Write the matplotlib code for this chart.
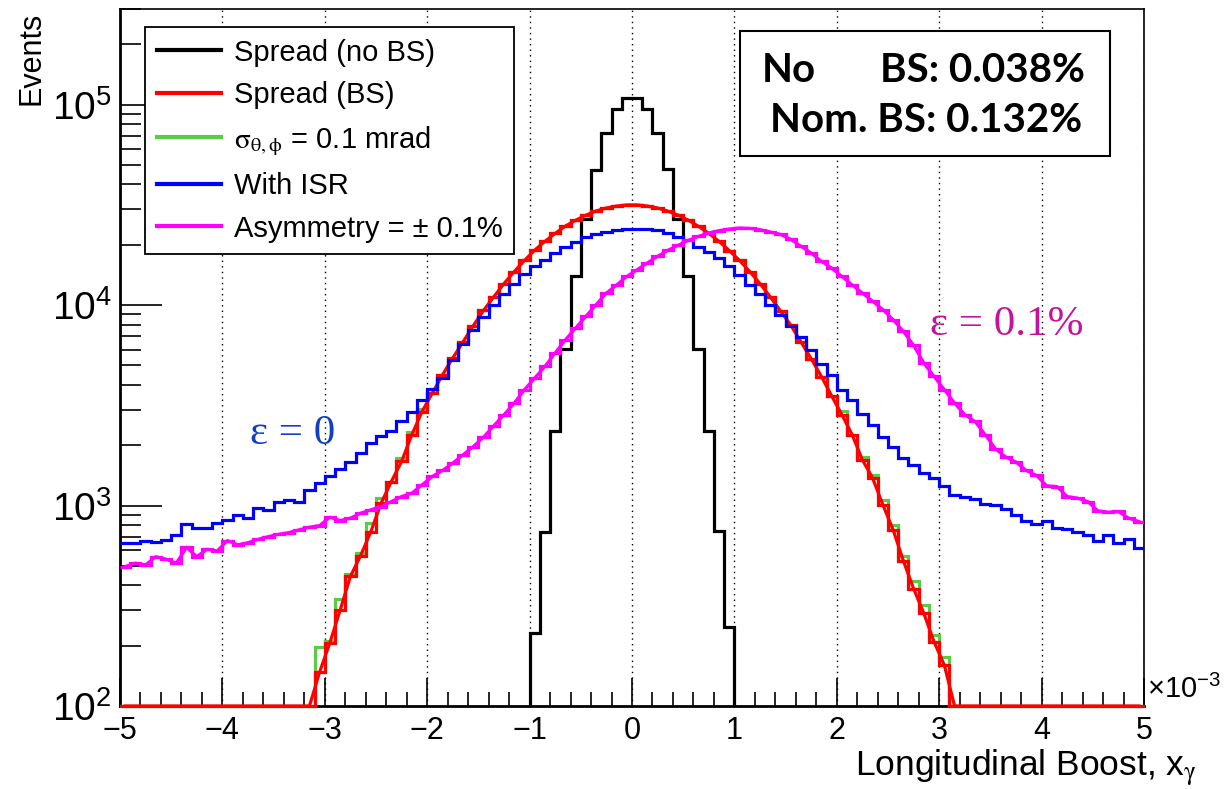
import numpy as np
import matplotlib.pyplot as plt
from matplotlib.lines import Line2D
from matplotlib.patches import Rectangle
from matplotlib.ticker import FixedLocator, FuncFormatter, NullFormatter

plt.rcParams['font.family'] = ['Liberation Sans', 'DejaVu Sans']
plt.rcParams['mathtext.fontset'] = 'custom'
plt.rcParams['mathtext.rm'] = 'Liberation Sans'
plt.rcParams['mathtext.it'] = 'Liberation Sans:italic'

# binning, x in units of 1e-3
x_edges = np.linspace(-5, 5, 101)
black_edges = np.linspace(-1, 1, 21)

# Spread (no BS), bins from -1 to 1
no_bs = [232, 740, 2360, 6050, 13900, 27000, 47400, 71800, 94600, 108000,
         108000, 95000, 72000, 47900, 27000, 13900, 6050, 2360, 745, 249]

# Spread (BS)
bs = [0, 0, 0, 0, 0, 0, 0, 0, 0, 0,
      0, 0, 0, 0, 0, 0, 0, 0, 0, 148,
      207, 301, 443, 563, 741, 1028, 1318, 1660, 2255, 2945,
      3640, 4490, 5450, 6550, 7900, 9400, 11000, 12800, 14700, 16700,
      18800, 20800, 22800, 24800, 26500, 28100, 29500, 30500, 31200, 31600,
      31600, 31200, 30500, 29400, 28100, 26500, 24700, 22800, 20800, 18700,
      16700, 14700, 12800, 11000, 9350, 7950, 6550, 5400, 4400, 3520,
      2838, 2255, 1690, 1370, 1008, 757, 530, 385, 290, 209,
      160, 0, 0, 0, 0, 0, 0, 0, 0, 0,
      0, 0, 0, 0, 0, 0, 0, 0, 0, 0]

# sigma_theta,phi = 0.1 mrad
sig = [0, 0, 0, 0, 0, 0, 0, 0, 0, 0,
       0, 0, 0, 0, 0, 0, 0, 0, 0, 198,
       212, 341, 455, 582, 820, 1090, 1318, 1720, 2330, 3020,
       3640, 4490, 5450, 6550, 7900, 9400, 11000, 12800, 14700, 16700,
       18800, 20800, 22800, 24800, 26500, 28100, 29500, 30500, 31200, 31600,
       31600, 31200, 30500, 29400, 28100, 26500, 24700, 22800, 20800, 18700,
       16700, 14700, 12800, 11000, 9350, 7950, 6550, 5400, 4400, 3520,
       2950, 2255, 1750, 1420, 1060, 800, 560, 420, 320, 225,
       176, 0, 0, 0, 0, 0, 0, 0, 0, 0,
       0, 0, 0, 0, 0, 0, 0, 0, 0, 0]

# With ISR
isr = [649, 649, 669, 661, 674, 714, 811, 771, 777, 823,
       849, 892, 871, 970, 952, 1036, 1068, 1047, 1197, 1294,
       1397, 1525, 1648, 1828, 2051, 2231, 2341, 2627, 2914, 3371,
       3812, 4325, 5300, 6400, 7500, 8700, 10000, 11400, 12800, 14300,
       15600, 16800, 18100, 19400, 20700, 21900, 22600, 23100, 23700, 23900,
       24100, 24100, 23700, 22900, 21900, 21200, 19600, 18400, 17100, 15600,
       14200, 12600, 11300, 10000, 8950, 7900, 6900, 6000, 5100, 4500,
       3785, 3345, 2858, 2528, 2193, 1970, 1724, 1596, 1451, 1370,
       1254, 1130, 1109, 1080, 1019, 1007, 959, 899, 842, 811,
       836, 771, 762, 742, 714, 669, 714, 653, 679, 612]

# Asymmetry = +-0.1%
asym = [496, 516, 506, 556, 540, 516, 619, 556, 605, 594,
        669, 637, 653, 679, 700, 719, 733, 757, 780, 795,
        875, 842, 865, 916, 952, 989, 1047, 1109, 1153, 1268,
        1397, 1496, 1629, 1791, 1970, 2193, 2500, 2838, 3244, 3785,
        4325, 4945, 5770, 6714, 7690, 8790, 10050, 11490, 12600, 13900,
        15000, 16230, 17510, 18760, 19870, 21040, 22030, 22900, 23520, 23970,
        24250, 24140, 23780, 23180, 22530, 21300, 19630, 18200, 16520, 15300,
        13900, 12600, 11490, 10450, 9490, 8450, 7390, 6300, 5140, 4405,
        3785, 3244, 2838, 2627, 2255, 1915, 1746, 1648, 1496, 1413,
        1254, 1244, 1109, 1089, 1047, 941, 927, 934, 865, 832]

Y_MIN, Y_MAX = 100, 3.0e5
x_ticks = [-5, -4, -3, -2, -1, 0, 1, 2, 3, 4, 5]

W, H = 1225, 789
fig = plt.figure(figsize=(W / 100, H / 100), dpi=100)
ax = fig.add_axes([120 / W, 1 - 706 / H, 1024 / W, 697 / H])

centers = 0.5 * (x_edges[:-1] + x_edges[1:])
floor = lambda v: np.maximum(np.asarray(v, dtype=float), Y_MIN)

lw = 2.3
ax.stairs(floor(no_bs), black_edges, baseline=Y_MIN, color='black', lw=lw, clip_on=False, zorder=3)
ax.stairs(floor(sig), x_edges, baseline=None, color='#58cc48', lw=lw, clip_on=False, zorder=4)
ax.stairs(floor(bs), x_edges, baseline=None, color='#ff0000', lw=lw, clip_on=False, zorder=5)
ax.plot(centers, floor(bs), color='#ff0000', lw=lw, clip_on=False, zorder=5)
ax.stairs(floor(isr), x_edges, baseline=None, color='#0000ff', lw=lw, zorder=6)
ax.stairs(floor(asym), x_edges, baseline=None, color='#ff00ff', lw=lw, zorder=7)
ax.plot(centers, floor(asym), color='#ff00ff', lw=lw, zorder=7)

ax.set_yscale('log')
ax.set_xlim(-5, 5)
ax.set_ylim(Y_MIN, Y_MAX)

ax.xaxis.set_major_locator(FixedLocator(x_ticks))
ax.xaxis.set_minor_locator(FixedLocator(np.arange(-5, 5.01, 0.2)))
ax.set_xticklabels([str(t).replace('-', '\u2212') for t in x_ticks])
ax.yaxis.set_major_locator(FixedLocator([1e2, 1e3, 1e4, 1e5]))
ax.yaxis.set_minor_locator(FixedLocator([m * 10 ** k for k in range(2, 6) for m in range(2, 10)]))
ax.yaxis.set_major_formatter(FuncFormatter(lambda v, p: r'$\mathregular{10^{%d}}$' % round(np.log10(v))))
ax.yaxis.set_minor_formatter(NullFormatter())

ax.tick_params(axis='x', which='major', direction='in', length=20, width=1.2, labelsize=22, pad=7)
ax.tick_params(axis='x', which='minor', direction='in', length=10, width=1.2)
ax.tick_params(axis='y', which='major', direction='in', length=30, width=1.2, labelsize=28, pad=6)
ax.tick_params(axis='y', which='minor', direction='in', length=15, width=1.2)
ax.grid(True, axis='x', which='major', color='black', linestyle=(0, (1, 3)), lw=1.0)
for s in ax.spines.values():
    s.set_linewidth(1.2)
ax.spines['bottom'].set_linewidth(2.0)
ax.spines['left'].set_linewidth(2.0)

# axis titles, ROOT style
fig.text(31 / W, 1 - 12 / H, 'Events', rotation=90, ha='center', va='top', fontsize=22)
xt = fig.text(1197 / W, 1 - 776 / H, r'Longitudinal Boost, x$_{\mathrm{\gamma}}$', ha='right',
              va='baseline', fontsize=25.5)
xt.set_math_fontfamily('stix')
fig.text(1147 / W, 1 - 704 / H, r'$\mathregular{\times10^{-3}}$', ha='left', va='bottom', fontsize=21)

# legend
handles = [Line2D([], [], color=c, lw=3) for c in ['black', '#ff0000', '#58cc48', '#0000ff', '#ff00ff']]
labels = ['Spread (no BS)', 'Spread (BS)', r'$\mathrm{\sigma}_{\mathrm{\theta,\phi}}$ = 0.1 mrad',
          'With ISR', 'Asymmetry = \u00b1 0.1%']
leg = fig.legend(handles, labels, loc='upper left', bbox_to_anchor=(145 / W, 1 - 27 / H),
                 bbox_transform=fig.transFigure, borderaxespad=0, fontsize=21, handlelength=2.2,
                 handletextpad=0.45, labelspacing=0.5, borderpad=0.4, fancybox=False,
                 frameon=True, edgecolor='black', framealpha=1)
leg.get_frame().set_linewidth(1.3)
leg.get_texts()[2].set_math_fontfamily('stix')

# percentages box
fig.patches.append(Rectangle((740 / W, 1 - 156 / H), 370 / W, 125 / H, transform=fig.transFigure,
                             facecolor='white', edgecolor='black', lw=1.5, zorder=10))
box_font = dict(fontsize=29, fontweight='bold', family='Lato', zorder=11)
fig.text(762 / W, 1 - 70 / H, 'No', ha='left', va='center', **box_font)
fig.text(1085 / W, 1 - 70 / H, 'BS: 0.038%', ha='right', va='center', **box_font)
fig.text(1082 / W, 1 - 120 / H, 'Nom. BS: 0.132%', ha='right', va='center', **box_font)

# curve annotations
ax.text(250 / W, 1 - 434 / H, '\u03b5 = 0', transform=fig.transFigure, ha='left', va='center',
        fontsize=31, family='Liberation Serif', color='#1040c0')
ax.text(930 / W, 1 - 325 / H, '\u03b5 = 0.1%', transform=fig.transFigure, ha='left', va='center',
        fontsize=31, family='Liberation Serif', color='#c8109a')

fig.savefig('out.png', dpi=100)
